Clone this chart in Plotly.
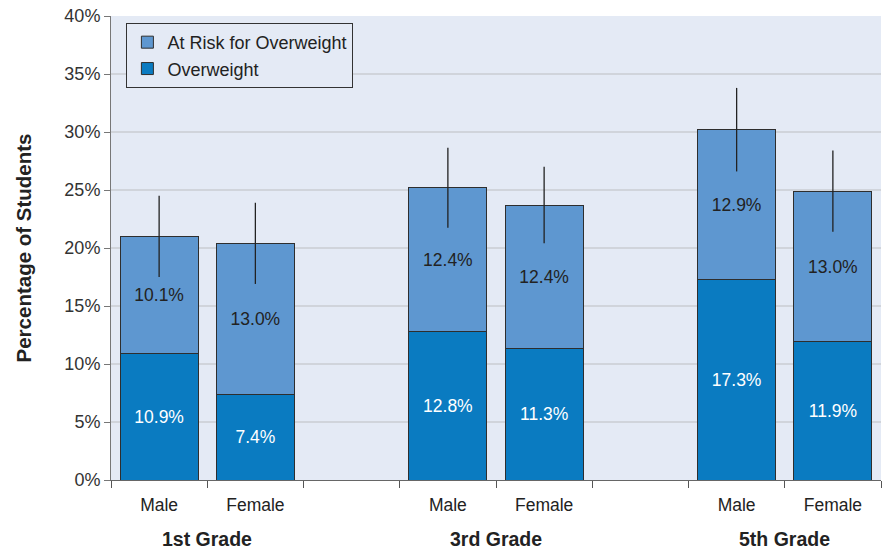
import plotly.graph_objects as go

# Data
slot_labels = ["Male", "Female", "", "Male", "Female", "", "Male", "Female"]
bar_slots = [0, 1, 3, 4, 6, 7]
grades = ["1st Grade", "3rd Grade", "5th Grade"]
grade_centers = [0.5, 3.5, 6.5]
overweight = [10.9, 7.4, 12.8, 11.3, 17.3, 11.9]
at_risk = [10.1, 13.0, 12.4, 12.4, 12.9, 13.0]
error = [3.5, 3.5, 3.45, 3.3, 3.6, 3.5]

totals = [a + b for a, b in zip(overweight, at_risk)]

c_over = "#0a7bc1"
c_risk = "#5e97d0"
bg = "#e4eaf5"
outline = "#2e2e2e"
font_family = "Liberation Sans, Arial, sans-serif"

fig = go.Figure()
fig.add_trace(go.Bar(
    x=bar_slots, y=overweight, name="Overweight",
    marker=dict(color=c_over, line=dict(color=outline, width=1)),
    text=[f"{v:.1f}%" for v in overweight], textposition="inside",
    insidetextanchor="middle", textangle=0,
    textfont=dict(color="white", size=17.5, family=font_family),
    width=0.81, hoverinfo="skip",
))
fig.add_trace(go.Bar(
    x=bar_slots, y=at_risk, name="At Risk for Overweight",
    marker=dict(color=c_risk, line=dict(color=outline, width=1)),
    text=[f"{v:.1f}%" for v in at_risk], textposition="inside",
    insidetextanchor="middle", textangle=0,
    textfont=dict(color="#222222", size=17.5, family=font_family),
    width=0.81, hoverinfo="skip",
))
fig.add_trace(go.Scatter(
    x=bar_slots, y=totals, mode="markers", showlegend=False,
    marker=dict(size=1, color="rgba(0,0,0,0)"),
    error_y=dict(type="data", array=error, visible=True, width=0,
                 thickness=1.3, color="#222222"),
    hoverinfo="skip",
))

annotations = []
for gx, g in zip(grade_centers, grades):
    annotations.append(dict(
        x=gx, y=-0.127, xref="x", yref="paper", text=f"<b>{g}</b>",
        showarrow=False, font=dict(size=19.5, color="#222222", family=font_family),
        yanchor="middle",
    ))

fig.update_layout(
    width=885, height=552,
    margin=dict(l=111, r=4, t=16, b=72, autoexpand=False),
    barmode="stack",
    paper_bgcolor="white",
    plot_bgcolor=bg,
    font=dict(family=font_family, size=18, color="#333333"),
    showlegend=True,
    legend=dict(
        x=0.02, y=0.985, xanchor="left", yanchor="top",
        bgcolor=bg, bordercolor="#333333", borderwidth=1,
        traceorder="reversed", font=dict(size=18, color="#222222"),
        tracegroupgap=0, itemwidth=30,
    ),
    xaxis=dict(
        range=[-0.5, 7.5], tickmode="array",
        tickvals=list(range(8)), ticktext=slot_labels,
        ticks="", showgrid=False, zeroline=False,
        showline=True, linecolor="#666666", linewidth=1,
        tickfont=dict(size=17.5, color="#222222"),
        ticklabelstandoff=9,
        minor=dict(tickmode="array", tickvals=[x - 0.5 for x in range(9)],
                   ticks="outside", ticklen=7, tickcolor="#555555",
                   showgrid=False),
    ),
    yaxis=dict(
        range=[0, 40], dtick=5, ticksuffix="%",
        showgrid=True, gridcolor="#d0d4db", gridwidth=1.5,
        zeroline=False, showline=True, linecolor="#777777", linewidth=1,
        ticks="outside", ticklen=6, tickcolor="#777777",
        tickfont=dict(size=18, color="#333333"),
        title=dict(text="<b>Percentage of Students</b>",
                   font=dict(size=20.5, color="#222222"), standoff=27),
    ),
    annotations=annotations,
)

fig.write_html("out.html", config={"displayModeBar": False},
               post_script="document.body.style.margin='0';document.body.style.overflow='hidden';")
